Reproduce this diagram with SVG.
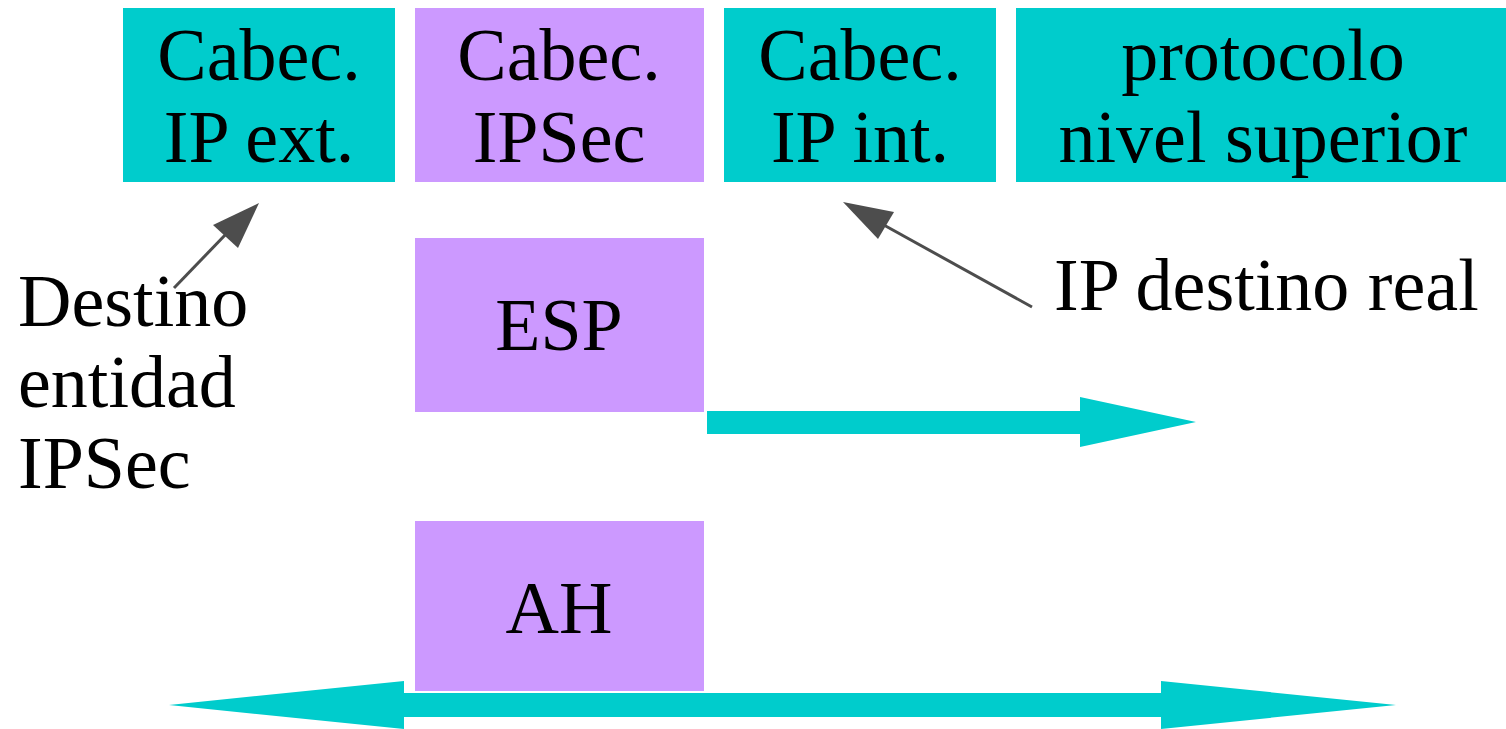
<svg xmlns="http://www.w3.org/2000/svg" width="1506" height="729" viewBox="0 0 1506 729">
<style>
.t{font-family:"Liberation Serif","Times New Roman",serif;font-size:74px;fill:#000}
.c{text-anchor:middle}
.teal{fill:#00CCCC}
.purp{fill:#CC99FF}
.ln{stroke:#4d4d4d;stroke-width:3;fill:none}
.hd{fill:#4d4d4d}
.big{fill:#00CCCC}
</style>
<rect width="1506" height="729" fill="#fff"/>
<g id="ip-ext">
<rect class="teal" x="123" y="8" width="272" height="174"/>
<text class="t c" x="259" y="80">Cabec.</text>
<text class="t c" x="259" y="162">IP ext.</text>
</g>
<g id="ipsec-hdr">
<rect class="purp" x="415" y="8" width="289" height="174"/>
<text class="t c" x="559" y="80">Cabec.</text>
<text class="t c" x="559" y="162">IPSec</text>
</g>
<g id="ip-int">
<rect class="teal" x="724" y="8" width="272" height="174"/>
<text class="t c" x="860" y="80">Cabec.</text>
<text class="t c" x="860" y="162">IP int.</text>
</g>
<g id="proto">
<rect class="teal" x="1016" y="8" width="490" height="174"/>
<text class="t c" x="1263" y="80">protocolo</text>
<text class="t c" x="1263" y="162">nivel superior</text>
</g>
<g id="esp">
<rect class="purp" x="415" y="238" width="289" height="174"/>
<text class="t c" x="559" y="350">ESP</text>
</g>
<g id="ah">
<rect class="purp" x="415" y="521" width="289" height="170"/>
<text class="t c" x="559" y="633">AH</text>
</g>
<g id="label-destino">
<text class="t" x="18" y="326">Destino</text>
<text class="t" x="18" y="407">entidad</text>
<text class="t" x="18" y="488">IPSec</text>
</g>
<g id="label-real">
<text class="t" x="1054" y="310">IP destino real</text>
</g>
<g id="connectors">
<line class="ln" x1="174" y1="288" x2="228" y2="232"/>
<polygon class="hd" points="259,203 213,225 238,248"/>
<line class="ln" x1="1032" y1="307" x2="882" y2="224"/>
<polygon class="hd" points="843,202 894,212 878,239"/>
<polygon class="big" points="707,411 1080,411 1080,397 1196,422 1080,447 1080,434 707,434"/>
<polygon class="big" points="169,705 404,681 404,693 1161,693 1161,681 1396,705 1161,729 1161,717 404,717 404,729"/>
</g>
</svg>
